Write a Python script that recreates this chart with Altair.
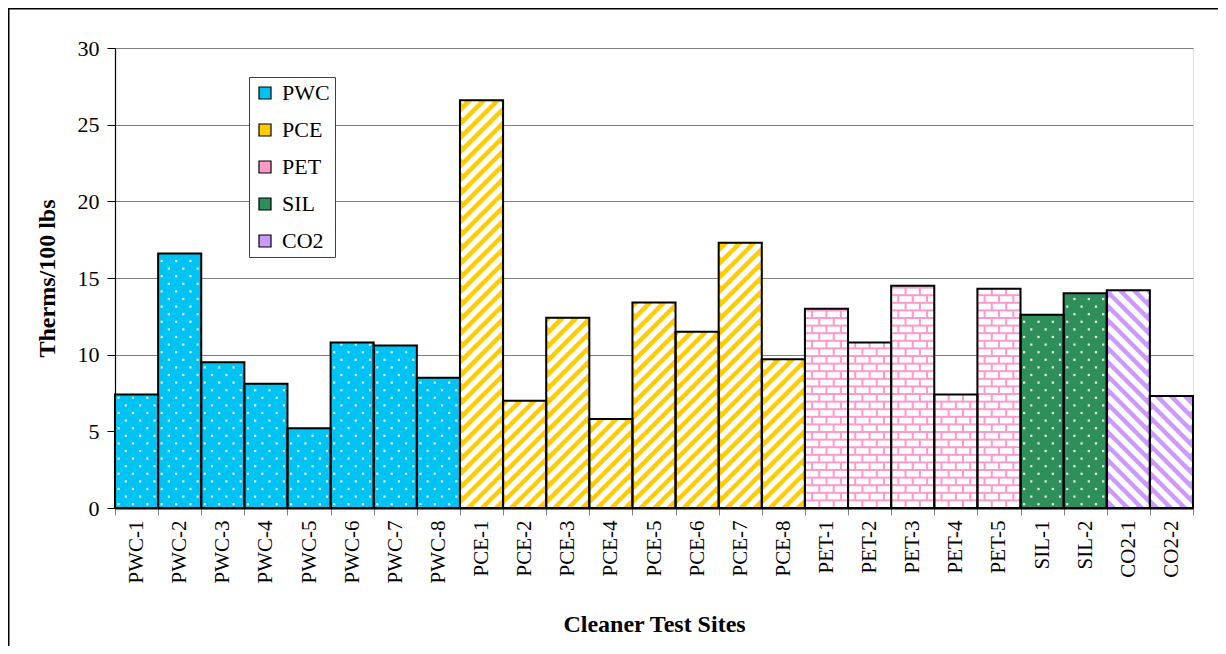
import altair as alt
import pandas as pd

# ---- data ----
sites = ["PWC-1", "PWC-2", "PWC-3", "PWC-4", "PWC-5", "PWC-6", "PWC-7", "PWC-8",
         "PCE-1", "PCE-2", "PCE-3", "PCE-4", "PCE-5", "PCE-6", "PCE-7", "PCE-8",
         "PET-1", "PET-2", "PET-3", "PET-4", "PET-5",
         "SIL-1", "SIL-2", "CO2-1", "CO2-2"]
groups = ["PWC"] * 8 + ["PCE"] * 8 + ["PET"] * 5 + ["SIL"] * 2 + ["CO2"] * 2
values = [7.4, 16.6, 9.5, 8.1, 5.2, 10.8, 10.6, 8.5,
          26.6, 7.0, 12.4, 5.8, 13.4, 11.5, 17.3, 9.7,
          13.0, 10.8, 14.5, 7.4, 14.3,
          12.6, 14.0, 14.2, 7.3]
group_order = ["PWC", "PCE", "PET", "SIL", "CO2"]
group_colors = ["#00C3F3", "#FFCC00", "#FF99CC", "#2F8F5B", "#CC99FF"]
y_ticks = [0, 5, 10, 15, 20, 25, 30]

# ---- layout / style constants ----
W_PLOT, H_PLOT = 1078, 460
YMAX = 30
N = len(sites)
BW = W_PLOT / N          # px per bar
K = H_PLOT / YMAX        # px per unit
ROW = 7.6                # px, dot / brick row height
P = 14.0                 # px, vertical stripe period
D = 1.0                  # px, stripe inset
M = 2.0                  # px, mortar width
FONT = "Liberation Serif"

df = pd.DataFrame({"site": sites, "grp": groups, "value": values,
                   "idx": list(range(N))})

yscale = alt.Scale(domain=[0, YMAX], nice=False, zero=True)
xq_scale = alt.Scale(domain=[0, N], nice=False, zero=False)
y_axis = alt.Axis(values=y_ticks, title="Therms/100 lbs",
                  titleFont=FONT, titleFontSize=24,
                  titleFontWeight="bold", titleColor="black",
                  titlePadding=18,
                  labelFont=FONT, labelFontSize=22, labelColor="black",
                  labelPadding=8, tickSize=8, tickColor="black",
                  domainColor="black", domainWidth=1.2,
                  grid=True, gridColor="#808080", gridWidth=1)

base = alt.Chart()

# frame around the whole chart (decoration)
frame = alt.Chart(alt.Data(values=[{"f": 1}])).mark_rect(
    fillOpacity=0, stroke="black", strokeWidth=1.5
).encode(x=alt.value(-106.25), x2=alt.value(1140),
         y=alt.value(-39.25), y2=alt.value(700))

bars = base.mark_bar(strokeWidth=0).encode(
    x=alt.X("site:N", sort=sites,
            scale=alt.Scale(paddingInner=0, paddingOuter=0),
            axis=alt.Axis(title="Cleaner Test Sites", titleFont=FONT,
                          titleFontSize=24, titleFontWeight="bold",
                          titleColor="black", titlePadding=29,
                          labelFont=FONT, labelFontSize=21, labelColor="black",
                          labelAngle=270, labelPadding=5, labelOverlap=False,
                          tickBand="extent", tickSize=7, tickColor="#808080",
                          domainColor="black", domainWidth=2, grid=False,
                          zindex=1)),
    y=alt.Y("value:Q", scale=yscale, axis=y_axis),
    color=alt.Color("grp:N",
                    scale=alt.Scale(domain=group_order, range=group_colors),
                    legend=alt.Legend(title=None, orient="none",
                                      legendX=134, legendY=29,
                                      direction="vertical",
                                      symbolType="square", symbolSize=144,
                                      symbolStrokeColor="black",
                                      symbolStrokeWidth=1.2,
                                      symbolOpacity=1,
                                      labelFont=FONT, labelFontSize=22,
                                      labelColor="black", labelOffset=6,
                                      rowPadding=15, padding=5,
                                      strokeColor="#404040",
                                      fillColor="white")),
)

# dot pattern (PWC, SIL)
dots = base.transform_filter(
    "datum.grp == 'PWC' || datum.grp == 'SIL'"
).transform_calculate(
    H=f"datum.value * {K}"
).transform_calculate(
    rows=f"sequence(0, floor(datum.H / {ROW}) + 1)", cols="[0, 1, 2]"
).transform_flatten(["rows"], as_=["r"]).transform_flatten(
    ["cols"], as_=["c"]
).transform_calculate(
    t=f"(datum.r + 0.5) * {ROW}",
    u=f"(datum.c + (datum.r % 2 == 0 ? 0.25 : 0.75)) * {BW} / 3"
).transform_filter(
    "datum.t < datum.H - 1.5"
).transform_calculate(
    xq=f"datum.idx + datum.u / {BW}", yq=f"datum.t / {K}"
).mark_square(size=5, color="white", opacity=0.85).encode(
    x=alt.X("xq:Q", scale=xq_scale, axis=None),
    y=alt.Y("yq:Q", scale=yscale, axis=y_axis),
)

# '/' stripes (PCE): white over yellow
pce = base.transform_filter("datum.grp == 'PCE'").transform_calculate(
    H=f"datum.value * {K}"
).transform_calculate(
    cs=f"sequence(-{BW}, datum.H, {P})"
).transform_flatten(["cs"], as_=["c"]).transform_calculate(
    ulo=f"max({D}, -datum.c)", uhi=f"min({BW} - {D}, datum.H - datum.c)"
).transform_filter("datum.uhi > datum.ulo").transform_calculate(
    xa=f"datum.idx + datum.ulo / {BW}", xb=f"datum.idx + datum.uhi / {BW}",
    ya=f"(datum.ulo + datum.c) / {K}", yb=f"(datum.uhi + datum.c) / {K}"
).mark_rule(color="white", strokeWidth=5.5).encode(
    x=alt.X("xa:Q", scale=xq_scale, axis=None), x2="xb:Q",
    y=alt.Y("ya:Q", scale=yscale, axis=y_axis), y2="yb:Q",
)

# '\' stripes (CO2): white over purple
co2 = base.transform_filter("datum.grp == 'CO2'").transform_calculate(
    H=f"datum.value * {K}"
).transform_calculate(
    cs=f"sequence(0, datum.H + {BW}, {P})"
).transform_flatten(["cs"], as_=["c"]).transform_calculate(
    ulo=f"max({D}, datum.c - datum.H)", uhi=f"min({BW} - {D}, datum.c)"
).transform_filter("datum.uhi > datum.ulo").transform_calculate(
    xa=f"datum.idx + datum.ulo / {BW}", xb=f"datum.idx + datum.uhi / {BW}",
    ya=f"(datum.c - datum.ulo) / {K}", yb=f"(datum.c - datum.uhi) / {K}"
).mark_rule(color="white", strokeWidth=5.5).encode(
    x=alt.X("xa:Q", scale=xq_scale, axis=None), x2="xb:Q",
    y=alt.Y("ya:Q", scale=yscale, axis=y_axis), y2="yb:Q",
)

# brick pattern (PET): white bricks over pink mortar
bricks = base.transform_filter("datum.grp == 'PET'").transform_calculate(
    H=f"datum.value * {K}"
).transform_calculate(
    rows=f"sequence(0, ceil(datum.H / {ROW}))", cols="[-1, 0, 1, 2, 3]"
).transform_flatten(["rows"], as_=["r"]).transform_flatten(
    ["cols"], as_=["k"]
).transform_calculate(
    us=f"(datum.k + (datum.r % 2) * 0.5) * {BW} / 3"
).transform_calculate(
    a=f"max(datum.us + {M} / 2, 0)",
    b=f"min(datum.us + {BW} / 3 - {M} / 2, {BW})",
    t0=f"datum.r * {ROW} + {M} / 2",
    t1=f"min((datum.r + 1) * {ROW} - {M} / 2, datum.H)",
).transform_filter(
    "datum.b > datum.a + 0.5 && datum.t1 > datum.t0 + 0.5"
).transform_calculate(
    xa=f"datum.idx + datum.a / {BW}", xb=f"datum.idx + datum.b / {BW}",
    ya=f"datum.t0 / {K}", yb=f"datum.t1 / {K}"
).mark_rect(color="white").encode(
    x=alt.X("xa:Q", scale=xq_scale, axis=None), x2="xb:Q",
    y=alt.Y("ya:Q", scale=yscale, axis=y_axis), y2="yb:Q",
)

outline = base.mark_bar(fillOpacity=0, stroke="black", strokeWidth=2).encode(
    x=alt.X("site:N", sort=sites,
            scale=alt.Scale(paddingInner=0, paddingOuter=0), axis=None),
    y=alt.Y("value:Q", scale=yscale, axis=y_axis),
)

chart = alt.layer(
    frame, bars, dots, pce, co2, bricks, outline, data=df
).resolve_scale(
    x="independent"
).properties(
    width=W_PLOT, height=H_PLOT,
    padding={"left": 107, "top": 40, "right": 25, "bottom": 138},
    autosize=alt.AutoSizeParams(type="none"),
).configure_view(
    stroke="#808080", strokeWidth=1
).configure(background="white")

chart.save("out.html", embed_options={"renderer": "svg", "actions": False})
